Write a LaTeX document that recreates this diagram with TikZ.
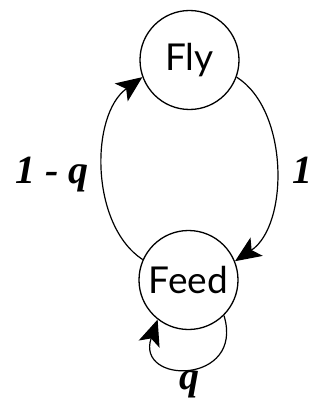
\documentclass[tikz,border=0pt]{standalone}
\usepackage{fontspec}
\setmainfont{Liberation Serif}
\newfontfamily\statefont{Lato}
\usetikzlibrary{arrows.meta}
\begin{document}
\begin{tikzpicture}[x=1pt,y=-1pt,
  state/.style={circle,draw,line width=1.3pt,minimum size=99pt,inner sep=0pt,font=\statefont\fontsize{37}{37}\selectfont},
  edge/.style={line width=1.2pt,-{Stealth[length=26pt,width=22pt,inset=6pt]}},
  prob/.style={anchor=base,font=\bfseries\itshape\fontsize{40}{40}\selectfont,inner sep=0pt}]
\useasboundingbox (0,0) rectangle (325,404);
\node[state] (fly) at (189.5,60) {Fly};
\node[state] (feed) at (188.5,280) {Feed};
\draw[edge] (feed.156) .. controls (90,225) and (90,115) .. (fly.200);
\draw[edge] (fly.-20) .. controls (289,110) and (289,225) .. (feed.22);
\draw[edge] (feed.-45) .. controls (245,385) and (135,385) .. (feed.-128);
\node[prob] (lq) at (52,183) {1 - q};
\node[prob] (one) at (302,183) {1};
\node[prob] (q) at (189,389) {q};
\end{tikzpicture}
\end{document}
